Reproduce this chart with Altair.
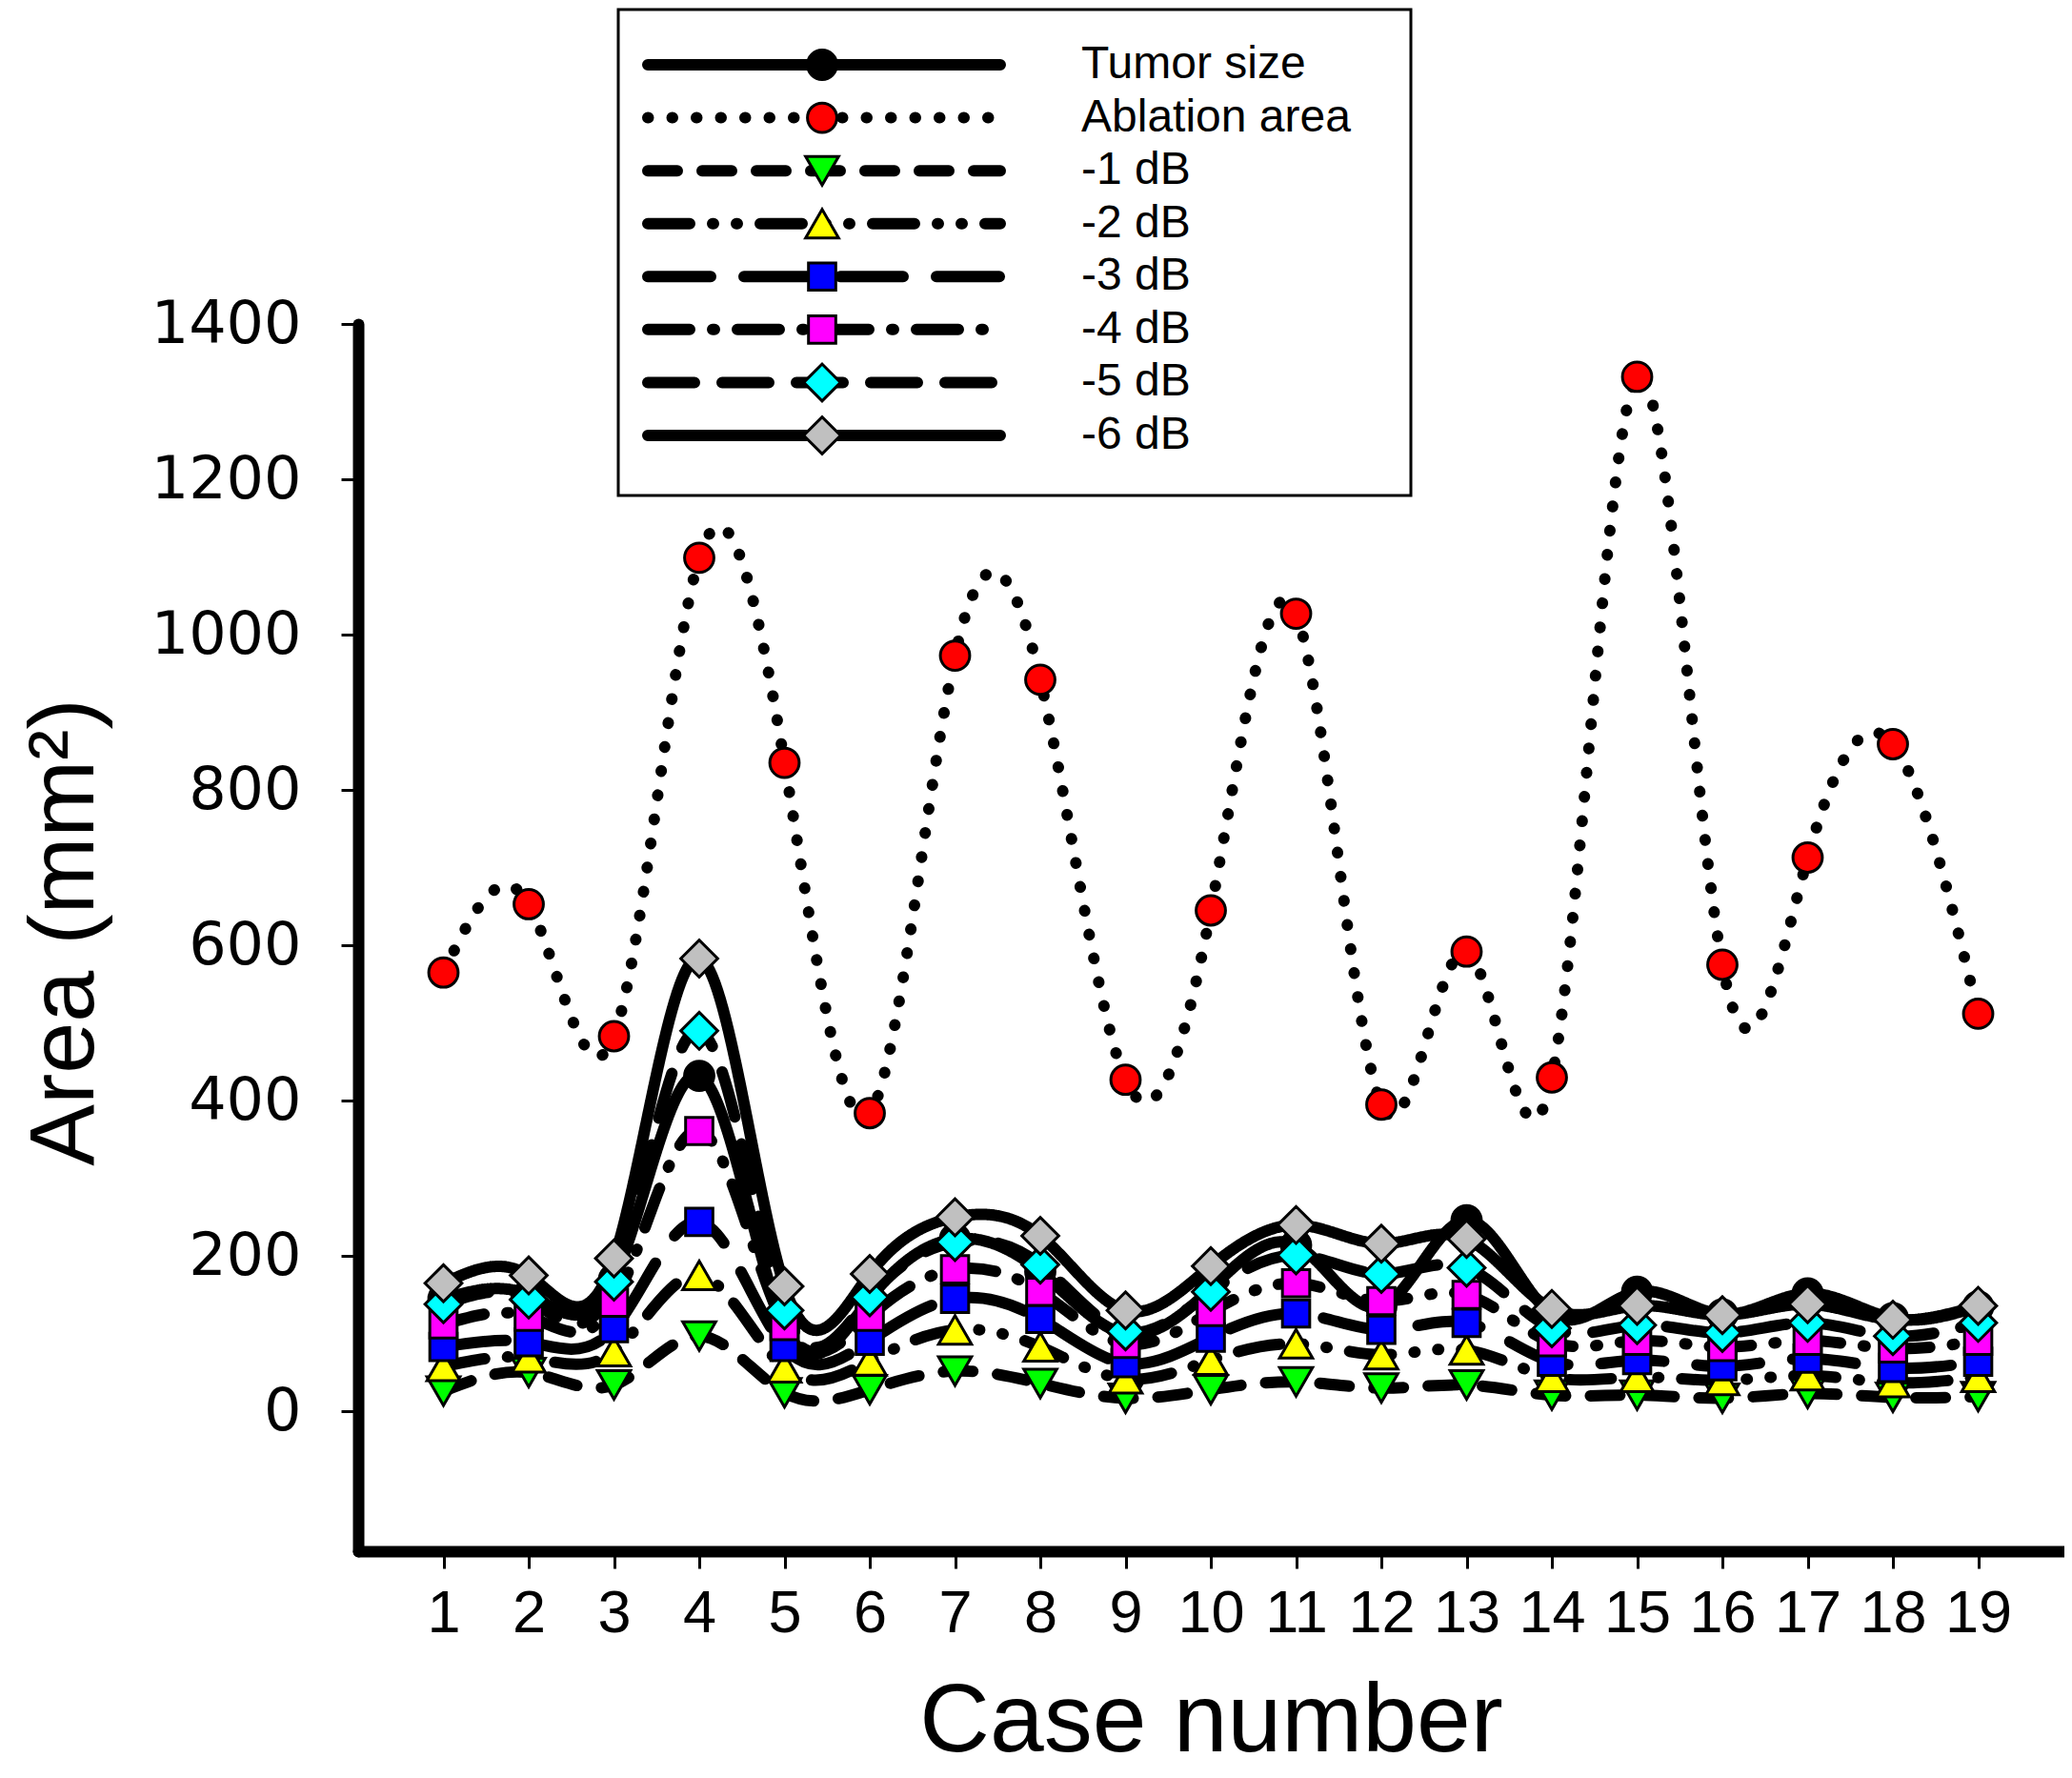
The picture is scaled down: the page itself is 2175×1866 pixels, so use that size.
import altair as alt
import pandas as pd

cases = list(range(1, 20))
series_names = ["Tumor size", "Ablation area", "-1 dB", "-2 dB", "-3 dB", "-4 dB", "-5 dB", "-6 dB"]

tumor = [145, 150, 170, 432, 110, 145, 222, 180, 100, 158, 214, 135, 246, 125, 154, 125, 152, 120, 135]
ablation = [565, 653, 483, 1099, 835, 384, 973, 942, 427, 645, 1027, 395, 592, 430, 1332, 575, 713, 859, 512]
db1 = [26, 50, 34, 97, 24, 28, 52, 36, 17, 28, 38, 30, 34, 21, 21, 17, 23, 18, 19]
db2 = [58, 69, 77, 175, 56, 65, 105, 83, 42, 66, 87, 73, 79, 44, 44, 40, 46, 37, 44]
db3 = [83, 89, 107, 244, 83, 91, 145, 119, 62, 95, 126, 105, 114, 64, 66, 58, 68, 56, 64]
db4 = [112, 122, 140, 361, 110, 122, 183, 154, 87, 128, 165, 142, 150, 89, 91, 83, 91, 81, 91]
db5 = [138, 144, 167, 490, 130, 147, 218, 189, 103, 154, 201, 177, 185, 107, 111, 101, 114, 97, 114]
db6 = [165, 175, 197, 583, 161, 177, 250, 226, 130, 187, 240, 216, 222, 132, 136, 124, 138, 118, 136]

all_series = [tumor, ablation, db1, db2, db3, db4, db5, db6]

y_ticks = [0, 200, 400, 600, 800, 1000, 1200, 1400]
x_ticks = cases

rows = []
for name, vals in zip(series_names, all_series):
    for c, v in zip(cases, vals):
        rows.append({"series": name, "case": c, "area": v})
df = pd.DataFrame(rows)
legend_df = pd.DataFrame({"series": series_names})

dash_scale = alt.Scale(
    domain=series_names,
    range=[[1, 0], [0.5, 25], [31, 26], [44, 24, 1, 24, 1, 24], [66, 35], [44, 24, 2, 24], [49, 29], [1, 0]],
)
shape_scale = alt.Scale(
    domain=series_names,
    range=["circle", "circle", "triangle-down", "triangle-up", "square", "square", "diamond", "diamond"],
)
fill_scale = alt.Scale(
    domain=series_names,
    range=["#000000", "#FF0000", "#00FF00", "#FFFF00", "#0000FF", "#FF00FF", "#00FFFF", "#C0C0C0"],
)
size_scale = alt.Scale(type="ordinal", domain=series_names,
                       range=[950, 950, 1200, 1200, 820, 820, 1500, 1500])

x_enc = alt.X(
    "case:Q",
    scale=alt.Scale(domain=[0, 20], nice=False, zero=False),
    axis=alt.Axis(
        values=x_ticks, format="d", labelOverlap=False, labelFlush=False,
        title="Case number", grid=False, domainWidth=12, domainColor="black", domainCap="round",
        tickSize=18, tickWidth=3, tickColor="black", labelPadding=16,
        labelFont="Liberation Sans", labelFontSize=63, labelColor="black",
        titleFont="Liberation Sans", titleFontSize=102, titleFontWeight="normal", titleColor="black",
        titleBaseline="alphabetic", titleY=209,
    ),
)
y_enc = alt.Y(
    "area:Q",
    scale=alt.Scale(domain=[-180, 1400], nice=False, zero=False),
    axis=alt.Axis(
        values=y_ticks, format="d", labelOverlap=False, labelFlush=False,
        title="Area (mm²)", grid=False, domainWidth=12, domainColor="black", domainCap="round",
        tickSize=18, tickWidth=3, tickColor="black", labelPadding=42,
        labelFont="DejaVu Sans", labelFontSize=62, labelColor="black",
        titleFont="Liberation Sans", titleFontSize=97, titleFontWeight="normal", titleColor="black",
        titleBaseline="alphabetic", titleX=-279, titleY=638, titleAngle=-90, titleAlign="center",
    ),
)

lines = alt.Chart(df).mark_line(
    interpolate="natural", strokeWidth=12, strokeCap="round", strokeJoin="round", color="black"
).encode(
    x=x_enc,
    y=y_enc,
    strokeDash=alt.StrokeDash("series:N", scale=dash_scale, legend=None),
    detail="series:N",
)

points = alt.Chart(df).mark_point(
    filled=True, stroke="black", strokeWidth=3, opacity=1, fillOpacity=1
).encode(
    x="case:Q",
    y="area:Q",
    shape=alt.Shape("series:N", scale=shape_scale, legend=None),
    fill=alt.Fill("series:N", scale=fill_scale, legend=None),
    size=alt.Size("series:N", scale=size_scale, legend=None),
)

main = alt.layer(lines, points)

leg_y = alt.Scale(type="point", domain=series_names, range=[-272, 117], padding=0)

box = alt.Chart(pd.DataFrame({"k": [0]})).mark_rect(
    fill="white", stroke="black", strokeWidth=3
).encode(
    x=alt.value(273), x2=alt.value(1105), y=alt.value(-330), y2=alt.value(180)
)

leg_lines = alt.Chart(legend_df).mark_rule(
    strokeWidth=12, strokeCap="round", color="black"
).encode(
    x=alt.value(304), x2=alt.value(674),
    y=alt.Y("series:N", scale=leg_y, axis=None),
    strokeDash=alt.StrokeDash("series:N", scale=dash_scale, legend=None),
)

leg_points = alt.Chart(legend_df).mark_point(
    filled=True, stroke="black", strokeWidth=3, opacity=1, fillOpacity=1
).encode(
    x=alt.value(487),
    y=alt.Y("series:N", scale=leg_y, axis=None),
    shape=alt.Shape("series:N", scale=shape_scale, legend=None),
    fill=alt.Fill("series:N", scale=fill_scale, legend=None),
    size=alt.Size("series:N", scale=size_scale, legend=None),
)

leg_text = alt.Chart(legend_df).mark_text(
    align="left", baseline="middle", font="Liberation Sans", fontSize=48, color="black"
).encode(
    x=alt.value(759),
    y=alt.Y("series:N", scale=leg_y, axis=None),
    text="series:N",
)

legend = alt.layer(box, leg_lines, leg_points, leg_text)

chart = alt.layer(main, legend).resolve_scale(y="independent").properties(
    width=1790,
    height=1288,
    autosize=alt.AutoSizeParams(type="none"),
    padding={"left": 368, "top": 332, "right": 1, "bottom": 230},
    background="white",
).configure_view(strokeWidth=0)

chart.save("out.html", embed_options={"renderer": "svg", "actions": False})
